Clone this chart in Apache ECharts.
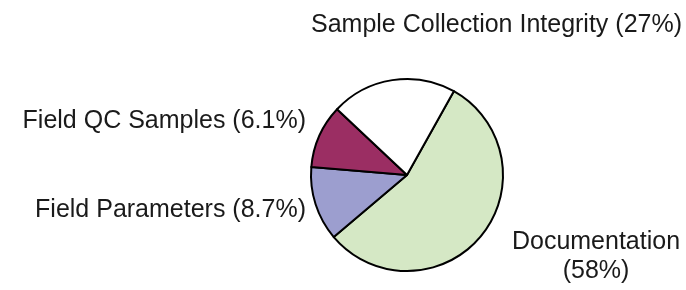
<!DOCTYPE html>
<html lang="en">
<head>
    <meta charset="UTF-8">
    <title>Pie</title>
    <style>
        body{
            margin: 0;
            background-color: #ffffff;
        }
        #chart{
            width: 686px;
            height: 290px;
        }
    </style>
</head>
<body>
<div id="chart"></div>
</body>
</html>
<script src="https://cdn.jsdelivr.net/npm/echarts@6/dist/echarts.min.js"></script>
<script>
    // slice shares as drawn in the picture, and the printed percentages
    var names = ['Documentation', 'Field Parameters', 'Field QC Samples', 'Sample Collection Integrity'];
    var shares = [55.7, 12.5, 10.7, 21.1];
    var printed = ['58%', '8.7%', '6.1%', '27%'];
    var colors = ['#d5e8c5', '#9c9ecf', '#9b2e63', '#ffffff'];

    // where each label sits
    var labelSpots = [
        {x: 596, y: 257, align: 'center'},
        {x: 306, y: 210, align: 'right'},
        {x: 306, y: 121, align: 'right'},
        {x: 311, y: 25, align: 'left'}
    ];

    var chart = echarts.init(document.getElementById('chart'));

    var data = [];
    for (var i = 0; i < names.length; i++) {
        data.push({value: shares[i], name: names[i], itemStyle: {color: colors[i]}});
    }

    chart.setOption({
        animation: false,
        series: [{
            type: 'pie',
            center: [407, 175],
            radius: 96,
            startAngle: 60.8,
            clockwise: true,
            data: data,
            itemStyle: {
                borderColor: '#000000',
                borderWidth: 2
            },
            label: {
                show: true,
                position: 'outside',
                overflow: 'none',
                color: '#1a1a1a',
                fontFamily: 'Liberation Sans, Arial, sans-serif',
                fontSize: 25,
                lineHeight: 29,
                formatter: function (p) {
                    if (p.dataIndex === 0) {
                        return p.name + '\n(' + printed[0] + ')';
                    }
                    return p.name + ' (' + printed[p.dataIndex] + ')';
                }
            },
            labelLine: {show: false},
            labelLayout: function (params) {
                var s = labelSpots[params.dataIndex];
                return {x: s.x, y: s.y, align: s.align, verticalAlign: 'middle'};
            },
            emphasis: {disabled: true}
        }]
    });
</script>
